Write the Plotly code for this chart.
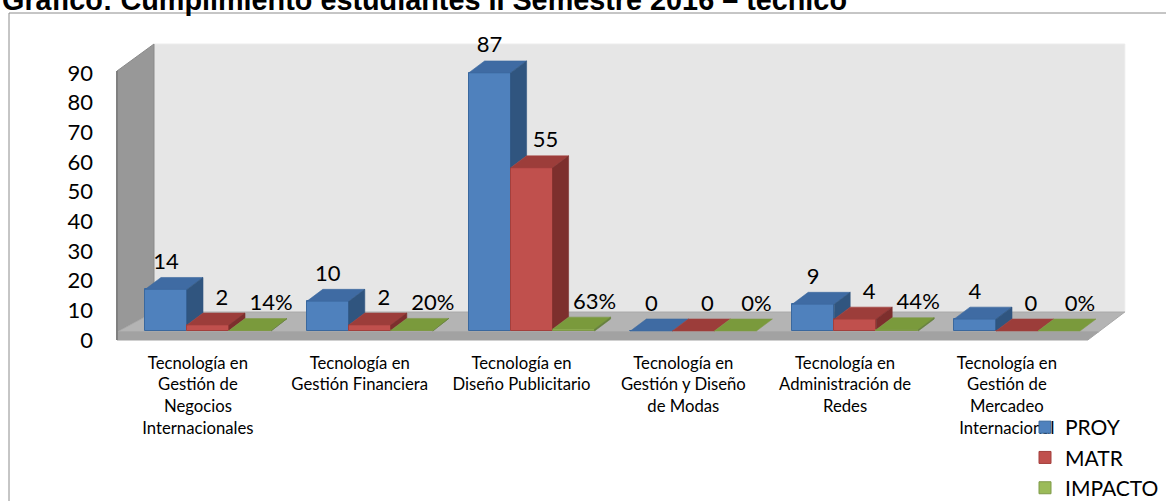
import plotly.graph_objects as go

# ---------------- data ----------------
CATEGORIES = [
    "Tecnología en<br>Gestión de<br>Negocios<br>Internacionales",
    "Tecnología en<br>Gestión Financiera",
    "Tecnología en<br>Diseño Publicitario",
    "Tecnología en<br>Gestión y Diseño<br>de Modas",
    "Tecnología en<br>Administración de<br>Redes",
    "Tecnología en<br>Gestión de<br>Mercadeo<br>Internacional",
]
SERIES_NAMES = ["PROY", "MATR", "IMPACTO"]
PROY = [14, 10, 87, 0, 9, 4]
MATR = [2, 2, 55, 0, 4, 0]
IMPACTO = [0.14, 0.20, 0.63, 0.0, 0.44, 0.0]
Y_TICKS = [0, 10, 20, 30, 40, 50, 60, 70, 80, 90]
TITLE = "Gráfico: Cumplimiento estudiantes II Semestre 2016 – técnico"

# ---------------- styles / geometry ----------------
FIG_W, FIG_H = 1166, 501
ML, MR, MT, MB = 100, 20, 30, 150
PX_PER_CAT = 161.8
PX_PER_UNIT = 2.966
X0_PX = 117 + 0.5 * PX_PER_CAT   # pixel of category index 0
Y0_PX = 340                       # pixel of value 0


def xu(px):
    return (px - X0_PX) / PX_PER_CAT


def yu(py):
    return (Y0_PX - py) / PX_PER_UNIT


def paper_x(px):
    return (px - ML) / (FIG_W - ML - MR)


def paper_y(py):
    return (FIG_H - MB - py) / (FIG_H - MT - MB)


X_RANGE = [xu(ML), xu(FIG_W - MR)]
Y_RANGE = [yu(FIG_H - MB), yu(MT)]

BAR_W = 42 / PX_PER_CAT
BAR_OFF0 = xu(145)
BASE = yu(331)
DEPTH_X = 16 / PX_PER_CAT
DEPTH_Y = 12 / PX_PER_UNIT
LABEL_DY = 26 / PX_PER_UNIT
LABEL_DX = [0, 14 / PX_PER_CAT, 21 / PX_PER_CAT]

FRONT = ["#4f81bd", "#c0504d", "#9bbb59"]
EDGE = ["#3a689e", "#a33f3c", "#7f9a48"]
TOP = ["#3f6ba3", "#9c3d3a", "#7a9a3c"]
SIDE = ["#30557f", "#7d2f2d", "#64803a"]

WALL_DX = 37 / PX_PER_CAT
FLOOR_FRONT_TOP = yu(332)
FLOOR_BACK = yu(312)
WALL_TOP = yu(44)
LEFT_WALL_TOP = yu(71)
FLOOR_L = -0.5
FLOOR_R = len(CATEGORIES) - 0.5

FONT = "Lato, Calibri, sans-serif"

series = [PROY, MATR, IMPACTO]
idx = list(range(len(CATEGORIES)))

fig = go.Figure()

# front faces (real bars)
for k, (name, vals) in enumerate(zip(SERIES_NAMES, series)):
    fig.add_trace(go.Bar(
        x=idx, y=vals, base=BASE, width=BAR_W, offset=BAR_OFF0 + k * BAR_W,
        name=name, legendgroup=name,
        marker=dict(color=FRONT[k], line=dict(color=EDGE[k], width=1)),
        hoverinfo="skip",
    ))

# top and side faces computed from the same values
for k, vals in enumerate(series):
    tx, ty, sx, sy = [], [], [], []
    for i in idx:
        xl = i + BAR_OFF0 + k * BAR_W
        xr = xl + BAR_W
        top = BASE + vals[i]
        nb_top = BASE + series[k + 1][i] if k + 1 < len(series) else BASE
        if nb_top > top:
            tx += [xl, xr, xr, xl + DEPTH_X, xl, None]
            ty += [top, top, top + DEPTH_Y, top + DEPTH_Y, top, None]
        else:
            tx += [xl, xr, xr + DEPTH_X, xl + DEPTH_X, xl, None]
            ty += [top, top, top + DEPTH_Y, top + DEPTH_Y, top, None]
        lo = max(BASE, nb_top)
        if top > lo:
            sx += [xr, xr + DEPTH_X, xr + DEPTH_X, xr, xr, None]
            sy += [lo, lo + DEPTH_Y, top + DEPTH_Y, top, lo, None]
    fig.add_trace(go.Scatter(x=tx, y=ty, mode="lines", fill="toself",
                             fillcolor=TOP[k], line=dict(color=EDGE[k], width=0.6),
                             showlegend=False, hoverinfo="skip"))
    if sx:
        fig.add_trace(go.Scatter(x=sx, y=sy, mode="lines", fill="toself",
                                 fillcolor=SIDE[k], line=dict(color=SIDE[k], width=0.6),
                                 showlegend=False, hoverinfo="skip"))

# data labels
for k, vals in enumerate(series):
    if k == 2:
        txt = [f"{round(v * 100)}%" for v in vals]
    else:
        txt = [f"{v}" for v in vals]
    fig.add_trace(go.Scatter(
        x=[i + BAR_OFF0 + k * BAR_W + BAR_W / 2 + LABEL_DX[k] for i in idx],
        y=[BASE + v + LABEL_DY for v in vals],
        mode="text", text=txt, textposition="middle center",
        textfont=dict(family=FONT, size=22, color="#000000"),
        showlegend=False, hoverinfo="skip", cliponaxis=False,
    ))

shapes = []
# back wall
shapes.append(dict(type="rect", xref="x", yref="y", layer="below",
                   x0=FLOOR_L + WALL_DX, x1=FLOOR_R + WALL_DX, y0=FLOOR_BACK, y1=WALL_TOP,
                   fillcolor="#e6e6e6", line=dict(color="#ececec", width=1)))
# left wall
shapes.append(dict(type="path", xref="x", yref="y", layer="below",
                   path=f"M{FLOOR_L},{FLOOR_FRONT_TOP} L{FLOOR_L},{LEFT_WALL_TOP} "
                        f"L{FLOOR_L + WALL_DX},{WALL_TOP} L{FLOOR_L + WALL_DX},{FLOOR_BACK} Z",
                   fillcolor="#989898", line=dict(color="#8a8a8a", width=1)))
# floor top
shapes.append(dict(type="path", xref="x", yref="y", layer="below",
                   path=f"M{FLOOR_L},{FLOOR_FRONT_TOP} L{FLOOR_R + WALL_DX * FLOOR_FRONT_TOP / FLOOR_BACK},{FLOOR_FRONT_TOP} "
                        f"L{FLOOR_R + WALL_DX},{FLOOR_BACK} L{FLOOR_L + WALL_DX},{FLOOR_BACK} Z",
                   fillcolor="#b4b4b4", line=dict(color="#a8a8a8", width=1)))
# floor front edge
shapes.append(dict(type="path", xref="x", yref="y", layer="below",
                   path=f"M{FLOOR_L},0 L{FLOOR_R},0 "
                        f"L{FLOOR_R + WALL_DX * FLOOR_FRONT_TOP / FLOOR_BACK},{FLOOR_FRONT_TOP} "
                        f"L{FLOOR_L},{FLOOR_FRONT_TOP} Z",
                   fillcolor="#a2a2a2", line=dict(color="#a2a2a2", width=1)))
# left wall front edge
shapes.append(dict(type="line", xref="x", yref="y", layer="below",
                   x0=FLOOR_L, x1=FLOOR_L, y0=0, y1=LEFT_WALL_TOP,
                   line=dict(color="#808080", width=2)))
# outer chart border
shapes.append(dict(type="rect", xref="paper", yref="paper", layer="below",
                   x0=paper_x(9), x1=paper_x(1170), y0=paper_y(505), y1=paper_y(13),
                   line=dict(color="#8c8c8c", width=1), fillcolor="rgba(0,0,0,0)"))

fig.update_layout(
    width=FIG_W, height=FIG_H,
    margin=dict(l=ML, r=MR, t=MT, b=MB, autoexpand=False),
    paper_bgcolor="#ffffff", plot_bgcolor="rgba(0,0,0,0)",
    barmode="overlay", bargap=0,
    shapes=shapes,
    showlegend=True,
    legend=dict(x=paper_x(1025), y=paper_y(407), xanchor="left", yanchor="top",
                font=dict(family=FONT, size=21, color="#000000"),
                bgcolor="rgba(0,0,0,0)", traceorder="grouped", tracegroupgap=0,
                itemwidth=30),
    annotations=[dict(text=f"<b>{TITLE}</b>", xref="paper", yref="paper",
                      x=paper_x(0), y=paper_y(0), xanchor="left", yanchor="middle",
                      showarrow=False,
                      font=dict(family="Liberation Sans, Arial, sans-serif", size=28.8,
                                color="#000000"))],
    xaxis=dict(range=X_RANGE, tickvals=idx, ticktext=CATEGORIES, showgrid=False,
               zeroline=False, showline=False, ticks="", fixedrange=True,
               tickfont=dict(family=FONT, size=16.7, color="#000000"), tickangle=0),
    yaxis=dict(range=Y_RANGE, tickvals=Y_TICKS, showgrid=False, zeroline=False,
               showline=False, ticks="", ticklabelstandoff=6, fixedrange=True,
               tickfont=dict(family=FONT, size=22, color="#000000")),
)

fig.write_html("out.html",
               config={"displayModeBar": False},
               post_script="document.body.style.margin='0px';"
                           "document.body.style.overflow='hidden';")
